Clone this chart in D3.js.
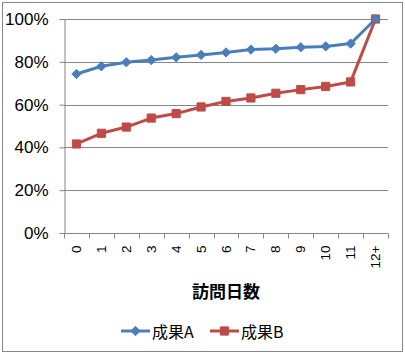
<!DOCTYPE html>
<html><head><meta charset="utf-8">
<script src="https://cdn.jsdelivr.net/npm/d3@7"></script>
<style>body{margin:0;background:#fff}svg{display:block}</style>
</head><body>
<script>
const categories = ["0","1","2","3","4","5","6","7","8","9","10","11","12+"];
const seriesA = [74.3, 77.9, 79.8, 80.8, 82.1, 83.2, 84.4, 85.7, 86.1, 86.8, 87.2, 88.5, 100];
const seriesB = [41.6, 46.6, 49.5, 53.7, 55.8, 58.9, 61.5, 63.1, 65.3, 67.0, 68.5, 70.6, 100];
const seriesNames = ["成果A", "成果B"];
const yTicks = [0, 20, 40, 60, 80, 100];
const xTitle = "訪問日数";

const W = 405, H = 355;
const svg = d3.select("body").append("svg").attr("width", W).attr("height", H);
svg.append("rect").attr("x", 2.5).attr("y", 2.5).attr("width", 400).attr("height", 349)
  .attr("fill", "#fff").attr("stroke", "#888").attr("stroke-width", 1);

const mLeft = 64, mRight = 388, mTop = 19, mBottom = 233;
const x = d3.scaleBand().domain(categories).range([mLeft, mRight]);
const y = d3.scaleLinear().domain([0, 100]).range([mBottom, mTop]);
const blue = "#4A7EBB", red = "#BE4B48";

// gridlines
svg.append("g").selectAll("line").data(yTicks.filter(d => d > 0)).join("line")
  .attr("x1", mLeft).attr("x2", mRight)
  .attr("y1", d => Math.round(y(d)) + 0.5).attr("y2", d => Math.round(y(d)) + 0.5)
  .attr("stroke", "#868686").attr("stroke-width", 1);

// y axis
const yAxis = svg.append("g").attr("transform", `translate(${mLeft + 0.5},0)`)
  .call(d3.axisLeft(y).tickValues(yTicks).tickFormat(d => d + "%").tickSize(5).tickPadding(11));
yAxis.select(".domain").attr("stroke", "#868686");
yAxis.selectAll(".tick line").attr("stroke", "#868686");
yAxis.selectAll("text").attr("font-family", "Liberation Sans, Arial, sans-serif").attr("font-size", 17).attr("fill", "#000");

// x axis
const xg = svg.append("g").attr("transform", `translate(0,${mBottom + 0.5})`);
xg.append("line").attr("x1", mLeft).attr("x2", mRight).attr("stroke", "#868686");
const bounds = categories.map(c => x(c)).concat([mRight]);
xg.selectAll("line.tk").data(bounds).join("line").attr("class", "tk")
  .attr("x1", d => Math.round(d) + 0.5).attr("x2", d => Math.round(d) + 0.5)
  .attr("y1", 0).attr("y2", 5).attr("stroke", "#868686");
xg.selectAll("text").data(categories).join("text")
  .attr("transform", d => `translate(${x(d) + x.bandwidth() / 2 + 4.5},12) rotate(-90)`)
  .attr("text-anchor", "end")
  .attr("font-family", "Liberation Sans, Arial, sans-serif").attr("font-size", 13.5)
  .text(d => d);

svg.append("text").attr("x", (mLeft + mRight) / 2).attr("y", 298)
  .attr("text-anchor", "middle").attr("font-family", "Noto Sans CJK JP").attr("font-weight", "bold")
  .attr("font-size", 17).text(xTitle);

// lines
const line = d3.line().x((d, i) => x(categories[i]) + x.bandwidth() / 2).y(d => y(d));
svg.append("path").datum(seriesB).attr("d", line).attr("fill", "none").attr("stroke", red).attr("stroke-width", 3).attr("stroke-linejoin", "round");
svg.append("path").datum(seriesA).attr("d", line).attr("fill", "none").attr("stroke", blue).attr("stroke-width", 3).attr("stroke-linejoin", "round");

const diamond = d3.symbol().type(d3.symbolDiamond2).size(55);
const square = d3.symbol().type(d3.symbolSquare2).size(85);
svg.append("g").selectAll("path").data(seriesB).join("path")
  .attr("transform", (d, i) => `translate(${x(categories[i]) + x.bandwidth() / 2},${y(d)})`)
  .attr("d", square).attr("fill", red).attr("stroke", red);
svg.append("g").selectAll("path").data(seriesA).join("path")
  .attr("transform", (d, i) => `translate(${x(categories[i]) + x.bandwidth() / 2},${y(d)})`)
  .attr("d", diamond).attr("fill", blue).attr("stroke", blue);

// legend
const leg = [{name: seriesNames[0], c: blue, s: diamond, x: 121}, {name: seriesNames[1], c: red, s: square, x: 210}];
const lg = svg.append("g");
leg.forEach(l => {
  lg.append("line").attr("x1", l.x).attr("x2", l.x + 29).attr("y1", 331).attr("y2", 331).attr("stroke", l.c).attr("stroke-width", 3);
  lg.append("path").attr("transform", `translate(${l.x + 14.5},331)`).attr("d", l.s).attr("fill", l.c).attr("stroke", l.c);
  lg.append("text").attr("x", l.x + 31).attr("y", 338).attr("font-family", "Noto Sans CJK JP").attr("font-size", 16).text(l.name);
});
</script>
</body></html>
